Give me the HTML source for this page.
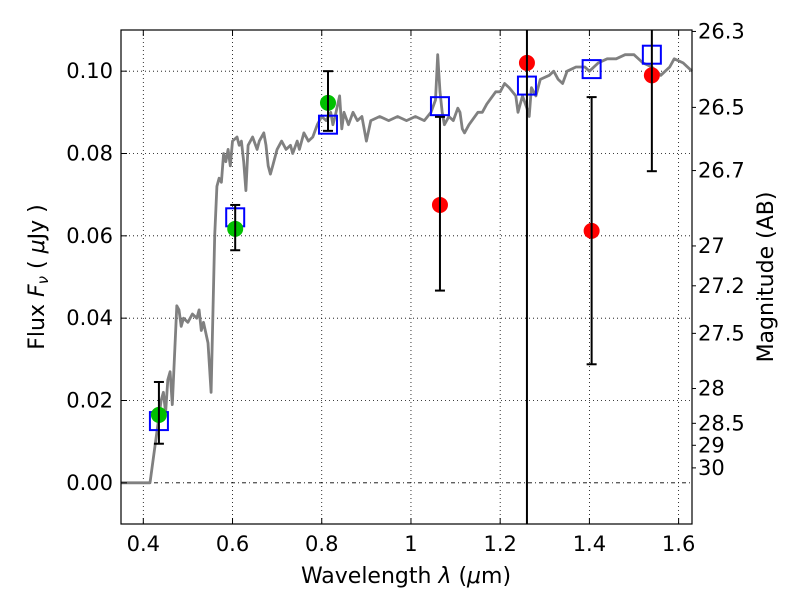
<!DOCTYPE html>
<html><head><meta charset="utf-8">
<style>
html,body{margin:0;padding:0;background:#fff;}
svg text{font-family:"DejaVu Sans","Liberation Sans",sans-serif;fill:#000;}
</style></head>
<body>
<svg id="chart" width="800" height="600" xmlns="http://www.w3.org/2000/svg">
<rect x="0" y="0" width="800" height="600" fill="#fff"/>
<g id="grid"></g>
<g id="spec"></g>
<g id="marks"></g>
<rect x="121" y="30" width="571" height="494" fill="none" stroke="#000" stroke-width="1.2"/>
<g id="ticks"></g>
<text x="406" y="583" font-size="22" text-anchor="middle">Wavelength  <tspan font-style="italic">λ</tspan> (<tspan font-style="italic">μ</tspan>m)</text>
<text transform="translate(44,277) rotate(-90)" font-size="22" text-anchor="middle">Flux  <tspan font-style="italic">F<tspan font-size="15" dy="4">ν</tspan></tspan><tspan dy="-4">  ( </tspan><tspan font-style="italic">μ</tspan>Jy )</text>
<text transform="translate(773,277) rotate(-90)" font-size="22" text-anchor="middle">Magnitude (AB)</text>
</svg>
<script>
const xTicks=[0.4,0.6,0.8,1.0,1.2,1.4,1.6];
const xTickLabels=["0.4","0.6","0.8","1","1.2","1.4","1.6"];
const yTicks=[0,0.02,0.04,0.06,0.08,0.10];
const yTickLabels=["0.00","0.02","0.04","0.06","0.08","0.10"];
const magTicks=[26.3,26.5,26.7,27,27.2,27.5,28,28.5,29,30];
const magLabels=["26.3","26.5","26.7","27","27.2","27.5","28","28.5","29","30"];
const specLam=[0.35,0.415,0.43,0.44,0.445,0.45,0.455,0.46,0.465,0.475,0.48,0.485,0.49,0.50,0.51,0.52,0.525,0.53,0.535,0.545,0.552,0.56,0.565,0.57,0.575,0.58,0.585,0.59,0.595,0.60,0.61,0.615,0.62,0.625,0.63,0.635,0.645,0.655,0.66,0.67,0.675,0.68,0.685,0.69,0.70,0.71,0.72,0.73,0.735,0.745,0.75,0.76,0.77,0.78,0.79,0.80,0.81,0.82,0.825,0.83,0.84,0.845,0.85,0.86,0.87,0.88,0.89,0.90,0.91,0.93,0.95,0.97,0.99,1.01,1.03,1.045,1.055,1.06,1.065,1.07,1.075,1.085,1.095,1.105,1.11,1.115,1.12,1.13,1.15,1.16,1.17,1.19,1.20,1.21,1.22,1.235,1.24,1.25,1.26,1.265,1.27,1.28,1.29,1.31,1.32,1.33,1.34,1.35,1.37,1.39,1.40,1.41,1.42,1.44,1.46,1.48,1.50,1.52,1.54,1.56,1.58,1.59,1.61,1.63];
const specFlux=[0,0,0.012,0.020,0.022,0.017,0.025,0.027,0.019,0.043,0.042,0.038,0.040,0.039,0.041,0.040,0.042,0.037,0.039,0.034,0.022,0.060,0.072,0.074,0.073,0.080,0.078,0.081,0.077,0.083,0.084,0.082,0.083,0.078,0.071,0.082,0.084,0.081,0.083,0.085,0.082,0.077,0.075,0.077,0.081,0.083,0.081,0.082,0.080,0.083,0.081,0.085,0.083,0.084,0.087,0.089,0.088,0.090,0.087,0.089,0.094,0.086,0.090,0.087,0.090,0.088,0.089,0.083,0.088,0.089,0.088,0.089,0.088,0.089,0.088,0.090,0.093,0.104,0.095,0.090,0.087,0.089,0.088,0.091,0.090,0.086,0.085,0.087,0.090,0.090,0.092,0.095,0.095,0.097,0.096,0.094,0.090,0.094,0.091,0.089,0.096,0.094,0.098,0.099,0.100,0.098,0.097,0.100,0.101,0.101,0.100,0.101,0.102,0.103,0.103,0.104,0.104,0.102,0.101,0.099,0.101,0.103,0.102,0.100];
const greenLam=[0.435,0.606,0.814];
const greenFlux=[0.0165,0.0617,0.0923];
const greenLo=[0.0095,0.0565,0.0855];
const greenHi=[0.0245,0.0675,0.100];
const blueLam=[0.435,0.606,0.814,1.065,1.26,1.405,1.54];
const blueFlux=[0.015,0.0645,0.087,0.0915,0.0965,0.1005,0.104];
const redLam=[1.065,1.26,1.405,1.54];
const redFlux=[0.0675,0.102,0.0612,0.099];
const redLo=[0.0467,-0.02,0.0288,0.0757];
const redHi=[0.0889,0.2,0.0937,0.2];

const X0=121,X1=692,Y0=30,Y1=524,xmin=0.35,xmax=1.63,ymin=-0.01,ymax=0.11;
const sx=v=>X0+(v-xmin)/(xmax-xmin)*(X1-X0);
const sy=v=>Y1-(v-ymin)/(ymax-ymin)*(Y1-Y0);
const cy=v=>Math.max(Y0,Math.min(Y1,sy(v)));
const NS="http://www.w3.org/2000/svg";
function mk(tag,attrs,parent){const e=document.createElementNS(NS,tag);for(const k in attrs)e.setAttribute(k,attrs[k]);parent.appendChild(e);return e;}
const grid=document.getElementById('grid'),ticks=document.getElementById('ticks'),spec=document.getElementById('spec'),marks=document.getElementById('marks');

xTicks.forEach((t,i)=>{
  const x=sx(t);
  const g=mk('line',{x1:x,x2:x,y1:Y0,y2:Y1,stroke:'#000','stroke-width':0.8,'stroke-dasharray':'1,3'},grid);
  
  
  mk('line',{x1:x,x2:x,y1:Y1,y2:Y1-6,stroke:'#000'},ticks);
  mk('line',{x1:x,x2:x,y1:Y0,y2:Y0+6,stroke:'#000'},ticks);
  const tx=mk('text',{x:x,y:Y1+27,'font-size':21,'text-anchor':'middle'},ticks);
  tx.textContent=xTickLabels[i];
  
  
});
yTicks.forEach((t,i)=>{
  const y=sy(t);
  const g=mk('line',{x1:X0,x2:X1,y1:y,y2:y,stroke:'#000','stroke-width':0.8,'stroke-dasharray':t===0?'4,3,1,3':'1,3'},grid);
  
  
  mk('line',{x1:X0,x2:X0+6,y1:y,y2:y,stroke:'#000'},ticks);
  const tx=mk('text',{x:X0-8,y:y+7,'font-size':21,'text-anchor':'end'},ticks);
  tx.textContent=yTickLabels[i];
  
  
});
magTicks.forEach((m,i)=>{
  const f=Math.pow(10,(23.9-m)/2.5);
  const y=sy(f);
  mk('line',{x1:X1,x2:X1+4,y1:y,y2:y,stroke:'#000'},ticks);
  const tx=mk('text',{x:X1+6,y:y+7,'font-size':21,'text-anchor':'start'},ticks);
  tx.textContent=magLabels[i];
  
  
});

const pts=specLam.map((l,i)=>sx(l).toFixed(1)+','+sy(specFlux[i]).toFixed(1)).join(' ');
const pl=mk('polyline',{points:pts,fill:'none',stroke:'#808080','stroke-width':2.8,'stroke-linejoin':'round'},spec);



function errbar(l,lo,hi){
  const x=sx(l),a=cy(hi),b=cy(lo);
  const e=mk('line',{x1:x,x2:x,y1:a,y2:b,stroke:'#000','stroke-width':2},marks);
  
  
  if(sy(hi)>=Y0) mk('line',{x1:x-5,x2:x+5,y1:a,y2:a,stroke:'#000','stroke-width':2},marks);
  if(sy(lo)<=Y1) mk('line',{x1:x-5,x2:x+5,y1:b,y2:b,stroke:'#000','stroke-width':2},marks);
}
blueLam.forEach((l,i)=>{
  const r=mk('rect',{x:sx(l)-9,y:sy(blueFlux[i])-9,width:18,height:18,fill:'none',stroke:'#0000ff','stroke-width':2},marks);
  
  
});
greenLam.forEach((l,i)=>{
  const c=mk('circle',{cx:sx(l),cy:sy(greenFlux[i]),r:8,fill:'#00c000'},marks);
  
  
  errbar(l,greenLo[i],greenHi[i]);
});
redLam.forEach((l,i)=>{
  const c=mk('circle',{cx:sx(l),cy:sy(redFlux[i]),r:8,fill:'#ff0000'},marks);
  
  
  errbar(l,redLo[i],redHi[i]);
});
</script>
</body></html>
